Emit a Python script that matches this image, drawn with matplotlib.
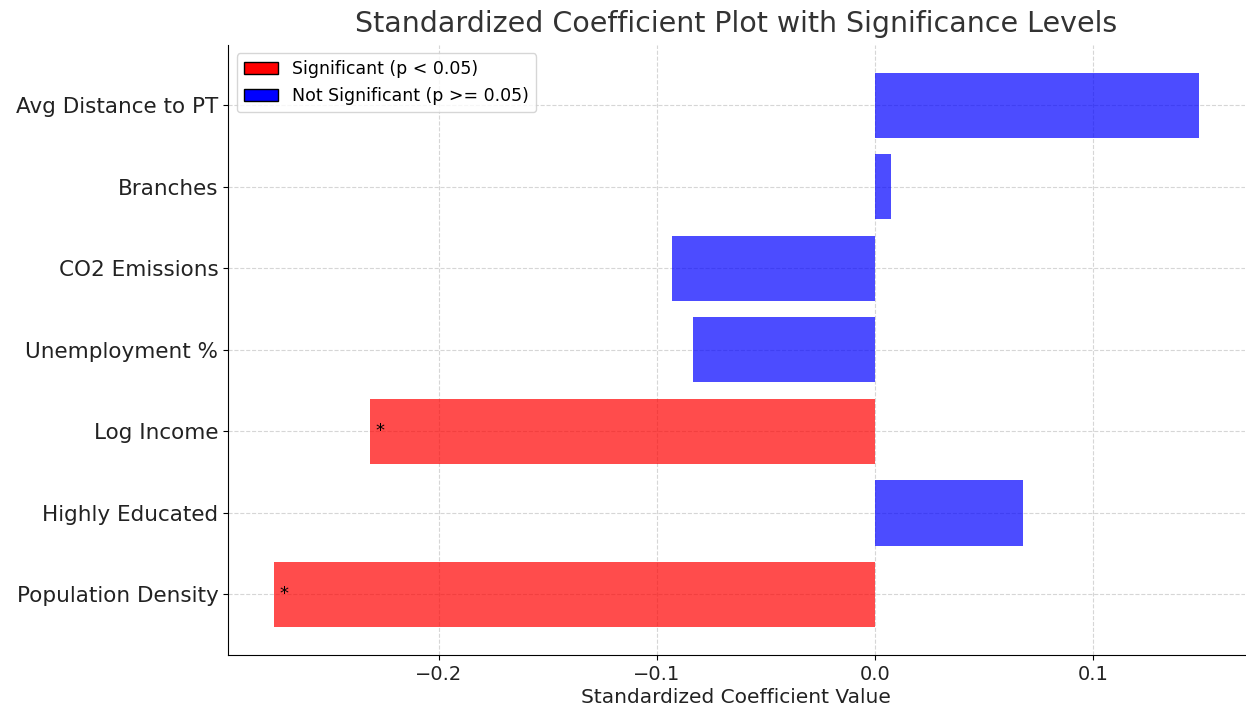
import numpy as np
import matplotlib
matplotlib.use("Agg")
import matplotlib.pyplot as plt
from matplotlib.patches import Patch

variables = ["Population Density", "Highly Educated", "Log Income", "Unemployment %",
             "CO2 Emissions", "Branches", "Avg Distance to PT"]
coefs = [-0.2755, 0.068, -0.2314, -0.0836, -0.0932, 0.0073, 0.1483]
pvalues = [0.01, 0.30, 0.02, 0.45, 0.35, 0.90, 0.12]

colors = ["red" if p < 0.05 else "blue" for p in pvalues]
ypos = np.arange(len(variables))

fig = plt.figure(figsize=(12.46, 7.11), dpi=100)
ax = fig.add_axes([0.183, 0.079, 0.816, 0.858])

ax.barh(ypos, coefs, color=colors, alpha=0.7)
for y, c, p in zip(ypos, coefs, pvalues):
    if p < 0.05:
        ax.text(c + 0.0045, y, "*", ha="center", va="center", fontsize=13, color="black")

ax.set_yticks(ypos)
ax.set_yticklabels(variables, fontsize=15.5, color="#222222")
ax.tick_params(axis="x", labelsize=14, labelcolor="#222222")
ax.set_xticks([-0.2, -0.1, 0.0, 0.1])
ax.set_xlabel("Standardized Coefficient Value", fontsize=14.5, color="#222222", labelpad=3)
ax.set_title("Standardized Coefficient Plot with Significance Levels", fontsize=20.5,
             color="#333333", pad=9)
ax.grid(True, linestyle="--", color="#cccccc", alpha=0.8)
ax.set_axisbelow(True)
ax.spines["top"].set_visible(False)
ax.spines["right"].set_visible(False)

handles = [Patch(facecolor="red", edgecolor="black", label="Significant (p < 0.05)"),
           Patch(facecolor="blue", edgecolor="black", label="Not Significant (p >= 0.05)")]
ax.legend(handles=handles, loc="upper left", fontsize=12.5)

fig.savefig("out.png", dpi=100)
